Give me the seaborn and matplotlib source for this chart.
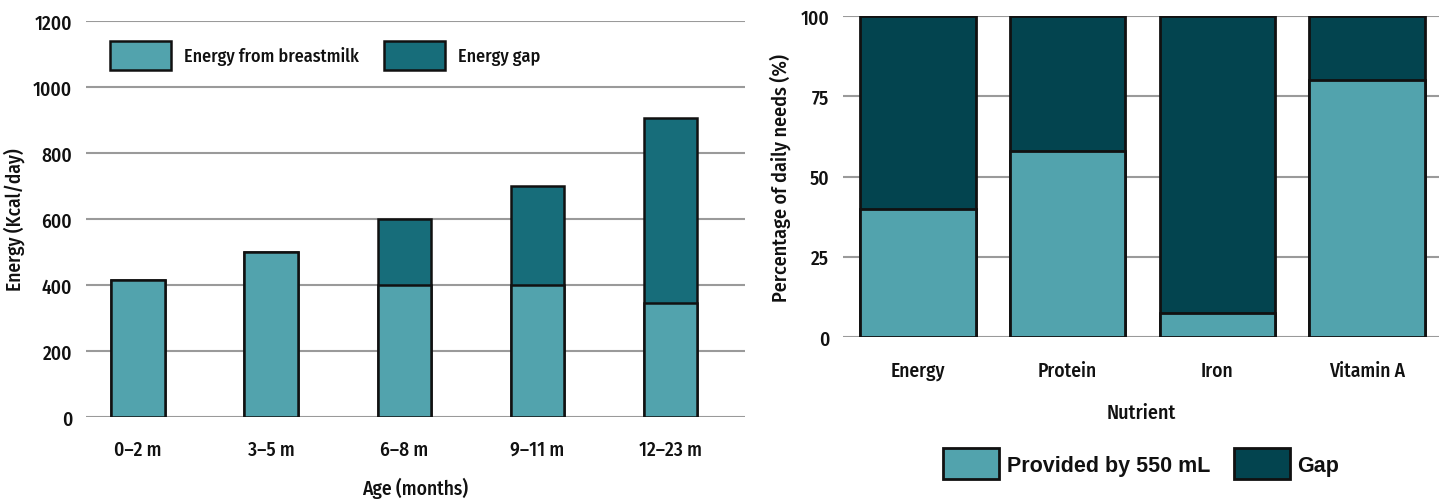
import numpy as np
import pandas as pd
import matplotlib
matplotlib.use('Agg')
import matplotlib.pyplot as plt
import seaborn as sns
from matplotlib.patches import Patch

# 데이터
ages = ['0–2 m', '3–5 m', '6–8 m', '9–11 m', '12–23 m']
breastmilk = np.array([415, 500, 400, 400, 345])
energy_gap = np.array([0, 0, 200, 300, 560])

nutrients = ['Energy', 'Protein', 'Iron', 'Vitamin A']
provided = np.array([40, 58, 7.5, 80])
nutrient_gap = 100 - provided

light = '#52a3ad'
dark_left = '#176d7a'
dark_right = '#03444f'
edge = '#111111'
grid_c = '#9a9a9a'
txt = '#111111'

sns.set_style('white')
plt.rcParams['font.family'] = ['Fira Sans Condensed', 'Liberation Sans Narrow', 'DejaVu Sans']
plt.rcParams['font.weight'] = 500
plt.rcParams['axes.labelweight'] = 500
plt.rcParams['text.color'] = txt
plt.rcParams['axes.labelcolor'] = txt
plt.rcParams['xtick.color'] = txt
plt.rcParams['ytick.color'] = txt

fig = plt.figure(figsize=(14.41, 5.02), dpi=100)
ax1 = fig.add_axes([0.0597, 0.1673, 0.4573, 0.7888])
ax2 = fig.add_axes([0.585, 0.3267, 0.4136, 0.6394])

### 왼쪽: 월령별 에너지
df1 = pd.DataFrame({'age': ages, 'milk': breastmilk, 'total': breastmilk + energy_gap})
sns.barplot(data=df1, x='age', y='total', color=dark_left, width=0.4,
            edgecolor=edge, linewidth=1.8, saturation=1, ax=ax1, zorder=3)
sns.barplot(data=df1, x='age', y='milk', color=light, width=0.4,
            edgecolor=edge, linewidth=1.8, saturation=1, ax=ax1, zorder=4)
ax1.set_ylim(0, 1200)
ax1.set_xlim(-0.39, 4.56)
ax1.set_yticks(range(0, 1201, 200))
ax1.grid(axis='y', color=grid_c, linewidth=1.5, zorder=0)
ax1.set_axisbelow(True)
ax1.set_ylabel('Energy (Kcal/day)', fontsize=14)
ax1.set_xlabel('Age (months)', fontsize=14)
ax1.yaxis.set_label_coords(-0.092, 0.5)
ax1.xaxis.set_label_coords(0.5, -0.152)
ax1.tick_params(axis='both', length=0, labelsize=14)
ax1.tick_params(axis='x', pad=16)
ax1.tick_params(axis='y', pad=10)
sns.despine(ax=ax1, left=True, bottom=True)

h1 = [Patch(facecolor=light, edgecolor=edge, linewidth=1.8),
      Patch(facecolor=dark_left, edgecolor=edge, linewidth=1.8)]
ax1.legend(h1, ['Energy from breastmilk', 'Energy gap'], ncol=2, frameon=False,
           loc='center left', bbox_to_anchor=(0.036, 0.914), borderaxespad=0,
           borderpad=0, fontsize=13, handlelength=3.4, handleheight=2.1,
           handletextpad=0.7, columnspacing=1.4)

### 오른쪽: 영양소별 충족률
df2 = pd.DataFrame({'nutrient': nutrients, 'provided': provided,
                    'total': provided + nutrient_gap})
sns.barplot(data=df2, x='nutrient', y='total', color=dark_right, width=0.77,
            edgecolor=edge, linewidth=2, saturation=1, ax=ax2, zorder=3)
sns.barplot(data=df2, x='nutrient', y='provided', color=light, width=0.77,
            edgecolor=edge, linewidth=2, saturation=1, ax=ax2, zorder=4)
ax2.set_ylim(0, 100)
ax2.set_xlim(-0.5, 3.48)
ax2.set_yticks([0, 25, 50, 75, 100])
ax2.grid(axis='y', color=grid_c, linewidth=1.5, zorder=0)
ax2.set_axisbelow(True)
ax2.set_ylabel('Percentage of daily needs (%)', fontsize=14.5)
ax2.set_xlabel('Nutrient', fontsize=14.5)
ax2.yaxis.set_label_coords(-0.088, 0.5)
ax2.xaxis.set_label_coords(0.5, -0.205)
ax2.tick_params(axis='both', length=0, labelsize=14)
ax2.tick_params(axis='x', pad=17)
ax2.tick_params(axis='y', pad=10)
sns.despine(ax=ax2, left=True, bottom=True)

h2 = [Patch(facecolor=light, edgecolor=edge, linewidth=2),
      Patch(facecolor=dark_right, edgecolor=edge, linewidth=2)]
fig.legend(h2, ['Provided by 550 mL', 'Gap'], ncol=2, frameon=False,
           loc='center', bbox_to_anchor=(0.792, 0.074), borderaxespad=0,
           borderpad=0,
           prop={'family': ['Liberation Sans', 'DejaVu Sans'], 'weight': 'bold', 'size': 15.5},
           handlelength=2.6, handleheight=1.85, handletextpad=0.35, columnspacing=1.1)

fig.savefig('out.png', dpi=100)
